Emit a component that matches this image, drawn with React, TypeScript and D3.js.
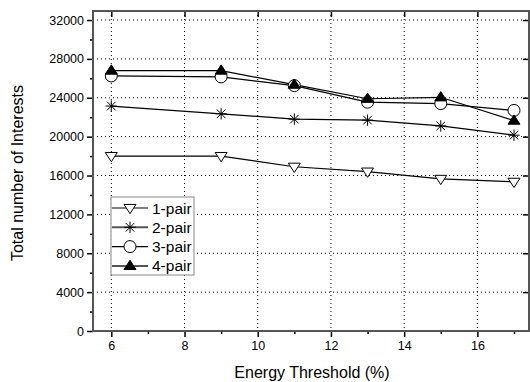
import { useEffect, useRef } from "react";
import * as d3 from "d3";

const thresholds = [6, 9, 11, 13, 15, 17];
const pair1 = [18000, 18000, 16900, 16400, 15650, 15350];
const pair2 = [23150, 22350, 21800, 21700, 21100, 20150];
const pair3 = [26250, 26150, 25250, 23550, 23400, 22700];
const pair4 = [26800, 26800, 25350, 23900, 24050, 21650];
const seriesNames = ["1-pair", "2-pair", "3-pair", "4-pair"];
const xTicks = [6, 8, 10, 12, 14, 16];
const yTicks = [0, 4000, 8000, 12000, 16000, 20000, 24000, 28000, 32000];

const FONT = "Arial, 'Liberation Sans', Helvetica, sans-serif";

function drawMarker(
  g: d3.Selection<SVGGElement, unknown, null, undefined>,
  kind: number,
  cx: number,
  cy: number,
) {
  const s = 6;
  if (kind === 0) {
    g.append("path")
      .attr("d", `M${cx - s},${cy - s * 0.6}L${cx + s},${cy - s * 0.6}L${cx},${cy + s * 0.95}Z`)
      .attr("fill", "#fff")
      .attr("stroke", "#000")
      .attr("stroke-width", 1);
  } else if (kind === 1) {
    const a = s * 0.95;
    g.append("path")
      .attr(
        "d",
        `M${cx - a},${cy}L${cx + a},${cy}M${cx},${cy - a}L${cx},${cy + a}` +
          `M${cx - a * 0.75},${cy - a * 0.75}L${cx + a * 0.75},${cy + a * 0.75}` +
          `M${cx - a * 0.75},${cy + a * 0.75}L${cx + a * 0.75},${cy - a * 0.75}`,
      )
      .attr("stroke", "#000")
      .attr("stroke-width", 1);
  } else if (kind === 2) {
    g.append("circle")
      .attr("cx", cx)
      .attr("cy", cy)
      .attr("r", s)
      .attr("fill", "#fff")
      .attr("stroke", "#000")
      .attr("stroke-width", 1);
  } else {
    g.append("path")
      .attr("d", `M${cx - s},${cy + s * 0.6}L${cx + s},${cy + s * 0.6}L${cx},${cy - s * 0.95}Z`)
      .attr("fill", "#000")
      .attr("stroke", "#000")
      .attr("stroke-width", 1);
  }
}

export default function App() {
  const svgRef = useRef<SVGSVGElement | null>(null);

  useEffect(() => {
    const svg = d3.select(svgRef.current);
    svg.selectAll("*").remove();

    const W = 530;
    const H = 382;
    const left = 93;
    const right = 529;
    const top = 11;
    const bottom = 331;

    const x = d3.scaleLinear().domain([5.5, 17.41]).range([left, right]);
    const y = d3.scaleLinear().domain([0, 32930]).range([bottom, top]);

    svg.attr("width", W).attr("height", H).attr("viewBox", `0 0 ${W} ${H}`);
    const root = svg.append("g");

    // grid
    const grid = root.append("g").attr("stroke", "#000").attr("stroke-width", 1).attr("stroke-dasharray", "1,3");
    xTicks.forEach((t) => {
      grid.append("line").attr("x1", x(t)).attr("x2", x(t)).attr("y1", top).attr("y2", bottom);
    });
    yTicks.slice(1).forEach((t) => {
      grid.append("line").attr("x1", left).attr("x2", right).attr("y1", y(t)).attr("y2", y(t));
    });

    // axes
    const bottomAxis = root
      .append("g")
      .attr("transform", `translate(0,${bottom})`)
      .call(d3.axisBottom(x).tickValues(xTicks).tickSize(6).tickPadding(4).tickFormat(d3.format("d")));
    const minorX = root
      .append("g")
      .attr("transform", `translate(0,${bottom})`)
      .call(d3.axisBottom(x).tickValues([7, 9, 11, 13, 15, 17]).tickSize(3).tickFormat(() => ""));
    const leftAxis = root
      .append("g")
      .attr("transform", `translate(${left},0)`)
      .call(d3.axisLeft(y).tickValues(yTicks).tickSize(6).tickPadding(3).tickFormat(d3.format("d")));
    const minorY = root
      .append("g")
      .attr("transform", `translate(${left},0)`)
      .call(d3.axisLeft(y).tickValues([2000, 6000, 10000, 14000, 18000, 22000, 26000, 30000]).tickSize(3).tickFormat(() => ""));
    const topAxis = root
      .append("g")
      .attr("transform", `translate(0,${top})`)
      .call(d3.axisBottom(x).tickValues(xTicks).tickSize(6).tickFormat(() => ""));
    const rightAxis = root
      .append("g")
      .attr("transform", `translate(${right},0)`)
      .call(d3.axisLeft(y).tickValues(yTicks.slice(1)).tickSize(6).tickFormat(() => ""));

    [bottomAxis, minorX, leftAxis, minorY, topAxis, rightAxis].forEach((a) => {
      a.select(".domain").remove();
      a.selectAll("line").attr("stroke", "#000").attr("stroke-width", 1.5);
      a.selectAll("text").attr("font-family", FONT).attr("font-size", 12.5).attr("fill", "#000");
    });

    root
      .append("rect")
      .attr("x", left)
      .attr("y", top)
      .attr("width", right - left)
      .attr("height", bottom - top)
      .attr("fill", "none")
      .attr("stroke", "#555")
      .attr("stroke-width", 2);

    // series
    const all = [pair1, pair2, pair3, pair4];
    const line = d3
      .line<number>()
      .x((_, i) => x(thresholds[i]))
      .y((d) => y(d));
    all.forEach((vals) => {
      root
        .append("path")
        .attr("d", line(vals))
        .attr("fill", "none")
        .attr("stroke", "#000")
        .attr("stroke-width", 1.2);
    });
    all.forEach((vals, k) => {
      const mg = root.append("g");
      vals.forEach((v, i) => drawMarker(mg, k, x(thresholds[i]), y(v)));
    });

    // legend
    const lg = root.append("g");
    lg.append("rect")
      .attr("x", 111)
      .attr("y", 197)
      .attr("width", 83)
      .attr("height", 78)
      .attr("fill", "#fff")
      .attr("stroke", "#888")
      .attr("stroke-width", 1);
    seriesNames.forEach((name, k) => {
      const cy = 208 + k * 19.3;
      lg.append("line")
        .attr("x1", 112)
        .attr("x2", 148)
        .attr("y1", cy)
        .attr("y2", cy)
        .attr("stroke", k % 2 === 1 ? "#555" : "#000")
        .attr("stroke-width", k % 2 === 1 ? 2 : 1.2);
      drawMarker(lg, k, 130, cy);
      lg.append("text")
        .attr("x", 152)
        .attr("y", cy + 5.5)
        .attr("font-family", FONT)
        .attr("font-size", 15.5)
        .attr("fill", "#000")
        .text(name);
    });

    // labels
    root
      .append("text")
      .attr("x", 312)
      .attr("y", 378)
      .attr("text-anchor", "middle")
      .attr("font-family", FONT)
      .attr("font-size", 16)
      .attr("fill", "#000")
      .text("Energy Threshold (%)");
    root
      .append("text")
      .attr("transform", `translate(23,173) rotate(-90)`)
      .attr("text-anchor", "middle")
      .attr("font-family", FONT)
      .attr("font-size", 16)
      .attr("fill", "#000")
      .text("Total number of Interests");
  }, []);

  return <svg ref={svgRef} style={{ position: "absolute", left: 0, top: 0, background: "#fff" }} />;
}
